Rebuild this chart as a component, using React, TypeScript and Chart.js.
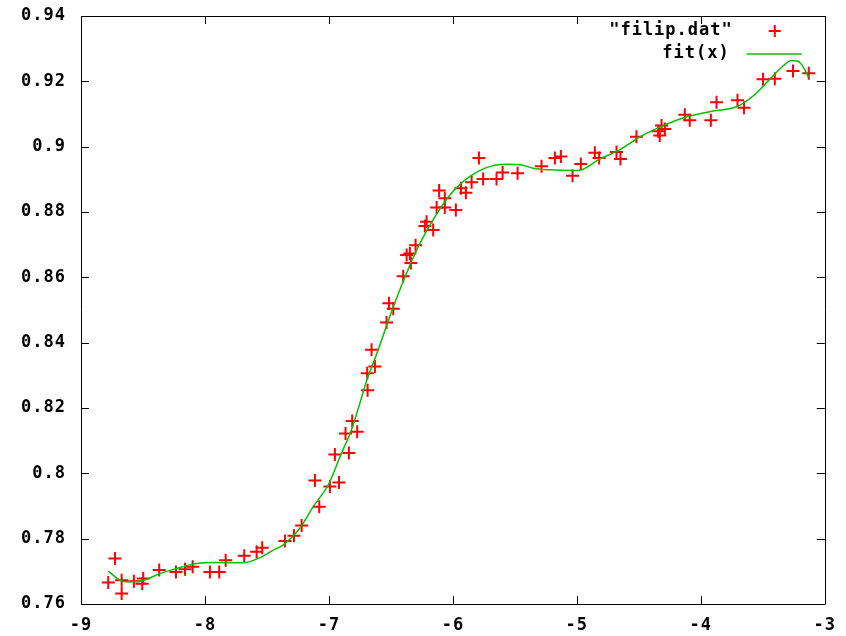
import React, { useEffect, useRef } from "react";
import { Chart, registerables } from "chart.js";

Chart.register(...registerables);

// Observed data ("filip.dat")
const filipX: number[] = [
  -8.780, -8.726, -8.672, -8.672, -8.573, -8.498, -8.506, -8.369, -8.234, -8.161,
  -8.099, -7.960, -7.885, -7.833, -7.683, -7.583, -7.538, -7.355, -7.282, -7.220,
  -7.078, -7.113, -6.992, -6.919, -6.952, -6.839, -6.866, -6.772, -6.812, -6.688,
  -6.691, -6.629, -6.656, -6.535, -6.516, -6.481, -6.401, -6.339, -6.373, -6.347,
  -6.301, -6.212, -6.226, -6.159, -6.131, -6.065, -5.976, -6.065, -6.111, -5.935,
  -5.895, -5.849, -5.756, -5.790, -5.648, -5.599, -5.478, -5.285, -5.177, -5.129,
  -5.035, -4.968, -4.855, -4.820, -4.680, -4.648, -4.519, -4.344, -4.317, -4.290,
  -4.331, -4.129, -4.089, -3.919, -3.873, -3.704, -3.651, -3.498, -3.403, -3.256,
  -3.129,
];
const filipY: number[] = [
  0.7666, 0.7739, 0.7632, 0.7673, 0.7670, 0.7678, 0.7662, 0.7704, 0.7698, 0.7706,
  0.7714, 0.7698, 0.7698, 0.7734, 0.7748, 0.7760, 0.7772, 0.7793, 0.7809, 0.7840,
  0.7898, 0.7978, 0.7960, 0.7972, 0.8058, 0.8062, 0.8122, 0.8127, 0.8160, 0.8254,
  0.8306, 0.8327, 0.8378, 0.8462, 0.8521, 0.8504, 0.8603, 0.8644, 0.8668, 0.8673,
  0.8698, 0.8770, 0.8757, 0.8745, 0.8814, 0.8814, 0.8806, 0.8842, 0.8866, 0.8873,
  0.8859, 0.8891, 0.8901, 0.8965, 0.8901, 0.8921, 0.8919, 0.8940, 0.8965, 0.8970,
  0.8911, 0.8947, 0.8981, 0.8965, 0.8984, 0.8962, 0.9030, 0.9047, 0.9065, 0.9054,
  0.9034, 0.9098, 0.9081, 0.9081, 0.9136, 0.9142, 0.9119, 0.9206, 0.9208, 0.9232,
  0.9225,
];

// Fitted curve fit(x)
const fitX: number[] = [
  -8.78, -8.70, -8.645, -8.524, -8.363, -8.228, -8.067, -7.90, -7.69, -7.556,
  -7.449, -7.368, -7.234, -7.127, -7.005, -6.898, -6.817, -6.75, -6.696, -6.615,
  -6.481, -6.347, -6.266, -6.145, -6.024, -5.863, -5.675, -5.55, -5.446, -5.353,
  -5.218, -4.99, -4.815, -4.653, -4.492, -4.331, -4.143, -3.901, -3.712, -3.578,
  -3.444, -3.336, -3.269, -3.22, -3.188, -3.148, -3.13,
];
const fitY: number[] = [
  0.7701, 0.7676, 0.7668, 0.7670, 0.7693, 0.7709, 0.7724, 0.7727, 0.7726, 0.7742,
  0.7765, 0.7781, 0.7832, 0.7898, 0.7965, 0.8062, 0.8134, 0.8215, 0.8283, 0.8365,
  0.8509, 0.8637, 0.8704, 0.8785, 0.8852, 0.8909, 0.8942, 0.8946, 0.8944, 0.8934,
  0.8929, 0.8927, 0.8962, 0.8991, 0.9030, 0.9060, 0.9088, 0.9109, 0.9122, 0.9155,
  0.9206, 0.9247, 0.9264, 0.9262, 0.9252, 0.9226, 0.9212,
];

const xTicks: number[] = [-9, -8, -7, -6, -5, -4, -3];
const yTicks: number[] = [0.76, 0.78, 0.8, 0.82, 0.84, 0.86, 0.88, 0.9, 0.92, 0.94];
const legendLabels: string[] = ['"filip.dat"', "fit(x)"];

const RED = "#ff0000";
const GREEN = "#00c000";
const FONT_FAMILY = '"DejaVu Sans Mono", "Liberation Mono", monospace';

const framePlugin = {
  id: "gnuplotFrame",
  beforeDraw(chart: any) {
    try {
      chart.ctx.letterSpacing = "1px";
    } catch (e) {}
  },
  afterDatasetsDraw(chart: any) {
    const { ctx, chartArea } = chart;
    const { left, right, top, bottom } = chartArea;
    const xs = chart.scales.x;
    const ys = chart.scales.y;
    const tl = 8;
    ctx.save();
    ctx.strokeStyle = "#000";
    ctx.lineWidth = 1;
    ctx.beginPath();
    ctx.rect(Math.round(left) + 0.5, Math.round(top) + 0.5, Math.round(right - left), Math.round(bottom - top));
    xTicks.forEach((v) => {
      const px = Math.round(xs.getPixelForValue(v)) + 0.5;
      ctx.moveTo(px, bottom);
      ctx.lineTo(px, bottom - tl);
      ctx.moveTo(px, top);
      ctx.lineTo(px, top + tl);
    });
    yTicks.forEach((v) => {
      const py = Math.round(ys.getPixelForValue(v)) + 0.5;
      ctx.moveTo(left, py);
      ctx.lineTo(left + tl, py);
      ctx.moveTo(right, py);
      ctx.lineTo(right - tl, py);
    });
    ctx.stroke();

    // Legend (gnuplot style, top right inside)
    ctx.font = `bold 17px ${FONT_FAMILY}`;
    ctx.fillStyle = "#000";
    ctx.textAlign = "right";
    ctx.textBaseline = "middle";
    const textRight = right - 92;
    const row1 = top + 15;
    const row2 = top + 38;
    ctx.fillText(legendLabels[0], textRight, row1);
    ctx.fillText(legendLabels[1], textRight - 3, row2);
    // red cross sample
    const cx = right - 50;
    ctx.strokeStyle = RED;
    ctx.lineWidth = 2;
    ctx.beginPath();
    ctx.moveTo(cx - 6, row1);
    ctx.lineTo(cx + 6, row1);
    ctx.moveTo(cx, row1 - 6);
    ctx.lineTo(cx, row1 + 6);
    ctx.stroke();
    // green line sample
    ctx.strokeStyle = GREEN;
    ctx.lineWidth = 1.5;
    ctx.beginPath();
    ctx.moveTo(right - 78, row2);
    ctx.lineTo(right - 23, row2);
    ctx.stroke();
    ctx.restore();
  },
};

export default function App() {
  const canvasRef = useRef<HTMLCanvasElement | null>(null);

  useEffect(() => {
    const canvas = canvasRef.current;
    if (!canvas) return;
    const tickFont = { family: FONT_FAMILY, size: 17, weight: "bold" as const };
    const chart = new Chart(canvas, {
      type: "scatter",
      data: {
        datasets: [
          {
            label: legendLabels[1],
            data: fitX.map((x, i) => ({ x, y: fitY[i] })),
            showLine: true,
            borderColor: GREEN,
            backgroundColor: GREEN,
            borderWidth: 1.5,
            pointRadius: 0,
            cubicInterpolationMode: "monotone",
            order: 0,
          } as any,
          {
            label: legendLabels[0],
            data: filipX.map((x, i) => ({ x, y: filipY[i] })),
            showLine: false,
            pointStyle: "cross",
            pointRadius: 6.5,
            borderColor: RED,
            backgroundColor: RED,
            borderWidth: 2,
            order: 1,
          } as any,
        ],
      },
      options: {
        responsive: false,
        animation: false,
        devicePixelRatio: 1,
        layout: { padding: { left: 0, right: 21, top: 16, bottom: 0 } },
        plugins: {
          legend: { display: false },
          tooltip: { enabled: false },
          title: { display: false },
        },
        scales: {
          x: {
            type: "linear",
            min: -9,
            max: -3,
            afterBuildTicks: (scale: any) => {
              scale.ticks = xTicks.map((v) => ({ value: v }));
            },
            afterFit: (scale: any) => {
              scale.height = 32;
            },
            grid: { display: false, drawTicks: false },
            border: { display: false },
            ticks: {
              color: "#000",
              font: tickFont,
              padding: 11,
              maxRotation: 0,
              callback: (v: any) => String(v),
            },
          },
          y: {
            type: "linear",
            min: 0.76,
            max: 0.94,
            afterBuildTicks: (scale: any) => {
              scale.ticks = yTicks.map((v) => ({ value: v }));
            },
            afterFit: (scale: any) => {
              scale.width = 81;
              scale.paddingTop = 0;
              scale.paddingBottom = 0;
            },
            grid: { display: false, drawTicks: false },
            border: { display: false },
            ticks: {
              color: "#000",
              font: tickFont,
              padding: 15,
              callback: (v: any) => String(Number(Number(v).toFixed(2))),
            },
          },
        },
      },
      plugins: [framePlugin],
    });
    return () => chart.destroy();
  }, []);

  return (
    <div style={{ position: "fixed", left: 0, top: 0, width: 846, height: 636, background: "#fff" }}>
      <canvas ref={canvasRef} width={846} height={636} style={{ width: 846, height: 636, display: "block" }} />
    </div>
  );
}
